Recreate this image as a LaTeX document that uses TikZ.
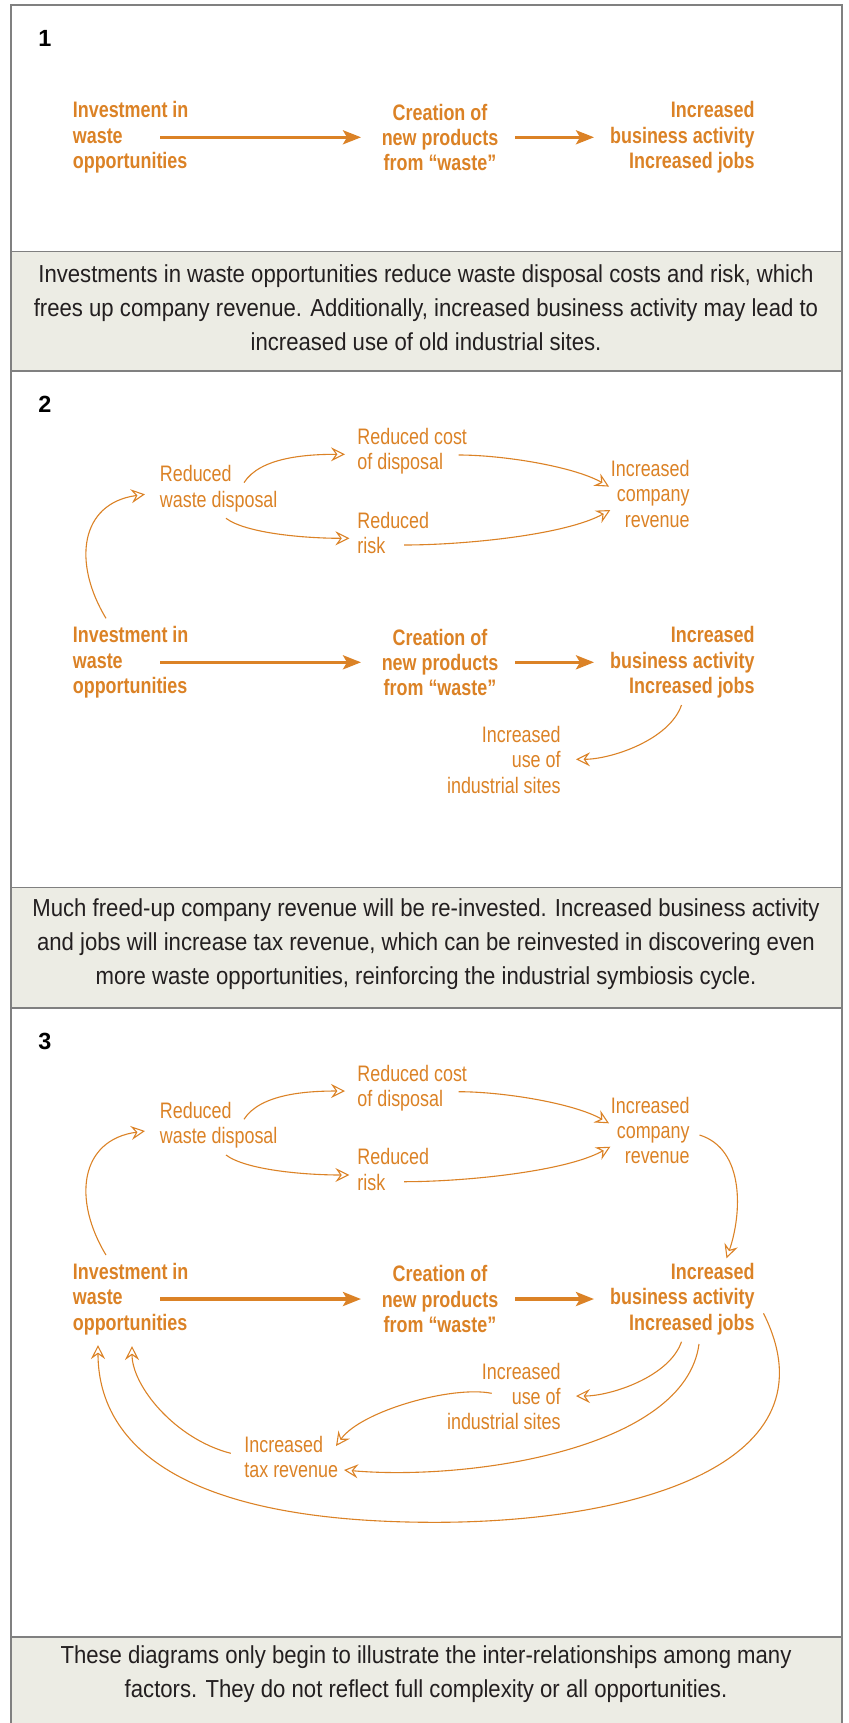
\documentclass[tikz,border=0pt]{standalone}
\usepackage{fontspec}
\setmainfont{Liberation Sans}
\newfontfamily\labfont[FakeStretch=0.8]{Liberation Sans}
\newfontfamily\capfont[FakeStretch=0.9]{Liberation Sans}
\usetikzlibrary{arrows.meta}
\definecolor{rust}{RGB}{219,130,38}
\definecolor{band}{RGB}{236,236,228}
\definecolor{rule}{RGB}{128,128,128}
\definecolor{ink}{RGB}{35,31,32}
\tikzset{
  main/.style={text=rust, inner sep=0pt, font=\labfont\bfseries\fontsize{11.2}{12.65}\selectfont},
  side/.style={text=rust, inner sep=0pt, font=\labfont\fontsize{11.2}{12.65}\selectfont},
  note/.style={text=ink, inner sep=0pt, align=center, font=\capfont\fontsize{12.3}{17}\selectfont},
  num/.style={inner sep=0pt, font=\bfseries\fontsize{11.7}{14}\selectfont},
  flow/.style={draw=rust, line width=1.6pt, -{Stealth[length=9pt,width=7pt,inset=2pt]}},
  link/.style={draw=rust, line width=0.55pt, -{Stealth[open,length=7pt,width=7pt,inset=2.5pt]}}
}
\begin{document}
\begin{tikzpicture}[x=0.5pt,y=-0.5pt]
\useasboundingbox (0,0) rectangle (848,1723);
% caption bands
\fill[band] (11,251.5) rectangle (842,371);
\fill[band] (11,887.5) rectangle (842,1008);
\fill[band] (11,1636.6) rectangle (842,1723);
\draw[rule, line width=0.9pt]
  (11,251.5) -- (842,251.5) (11,371) -- (842,371)
  (11,887.5) -- (842,887.5) (11,1008) -- (842,1008)
  (11,1636.6) -- (842,1636.6);
\draw[rule, line width=0.9pt] (11,1730) -- (11,5) -- (842,5) -- (842,1730);

\node[num] (n1) at (45,38) {1};
\node[num] (n2) at (45,404) {2};
\node[num] (n3) at (45,1041) {3};

\node[note] (cap1) at (426,307.6) {Investments in waste opportunities reduce waste disposal costs and risk, which\\
  frees up company revenue. Additionally, increased business activity may lead to\\
  increased use of old industrial sites.};
\node[note] (cap2) at (426,944.6) {Much freed-up company revenue will be re-invested. Increased business activity\\
  and jobs will increase tax revenue, which can be reinvested in discovering even\\
  more waste opportunities, reinforcing the industrial symbiosis cycle.};
\node[note] (cap3) at (426,1674) {These diagrams only begin to illustrate the inter-relationships among many\\
  factors. They do not reflect full complexity or all opportunities.};

% main row, all three panels
\foreach \p/\y in {1/137.3, 2/662.3, 3/1299} {
\begin{scope}[shift={(0,\y)}]
\node[main, anchor=west, align=left] (inv\p) at (72.5,0) {Investment in\\waste\\opportunities};
\node[main, align=center] (cre\p) at (440,0) {Creation of\\new products\\from “waste”};
\node[main, anchor=east, align=right] (bus\p) at (755,0) {Increased\\business activity\\Increased jobs};
\draw[flow] ([shift={(87.5,0)}]inv\p.west) -- ([shift={(-79,0)}]cre\p.center);
\draw[flow] ([shift={(75,0)}]cre\p.center) -- ([shift={(-161,0)}]bus\p.east);
\end{scope}
}

% side effects, panels 2 and 3
\foreach \p/\y in {2/662.3, 3/1299} {
\begin{scope}[shift={(0,\y)}]
\node[side, anchor=west, align=left] (rwd\p) at (159.5,-173.5) {Reduced\\waste disposal};
\node[side, anchor=west, align=left] (cost\p) at (357,-211) {Reduced cost\\of disposal};
\node[side, anchor=west, align=left] (risk\p) at (357,-129.5) {Reduced\\risk};
\node[side, anchor=east, align=right] (rev\p) at (690,-168.5) {Increased\\company\\revenue};
\node[side, anchor=east, align=right] (site\p) at (561,97.5) {Increased\\use of\\industrial sites};
\draw[link] ([shift={(33.5,-44)}]inv\p.west) .. controls +(-33.5,-55.3) and +(-65.4,9) .. ([shift={(-14.5,5.5)}]rwd\p.west);
\draw[link] ([shift={(84.5,-6.2)}]rwd\p.west) .. controls +(16,-25) and +(-40,0) .. ([shift={(-12,3)}]cost\p.west);
\draw[link] ([shift={(66.5,29.5)}]rwd\p.west) .. controls +(20,15) and +(-45,0) .. ([shift={(-7.6,5.5)}]risk\p.west);
\draw[link] ([shift={(101.5,3.7)}]cost\p.west) .. controls +(45,0) and +(-35,-20) .. ([shift={(-81,-7.2)}]rev\p.east);
\draw[link] ([shift={(47,12.2)}]risk\p.west) .. controls +(60,0) and +(-45,25) .. ([shift={(-79.7,16.2)}]rev\p.east);
\draw[link] ([shift={(-73.5,42.7)}]bus\p.east) .. controls +(-12,35) and +(35,0) .. ([shift={(15,-0.5)}]site\p.east);
\end{scope}
}

% feedback, panel 3
\node[side, anchor=west, align=left] (tax) at (244,1457) {Increased\\tax revenue};
\draw[link] ([shift={(9.5,4.5)}]rev3.east) .. controls +(45.5,14) and +(15.5,-44.3) .. ([shift={(-28.5,-40.7)}]bus3.east);
\draw[link] ([shift={(8.5,14.3)}]bus3.east) .. controls +(75,150) and +(200,0) .. ([shift={(-320,223.3)}]bus3.east)
  .. controls +(-284,0) and +(0,80.8) .. ([shift={(25.5,46)}]inv3.west);
\draw[link] ([shift={(-56,45)}]bus3.east) .. controls +(-14,105) and +(126,11) .. ([shift={(100,13)}]tax.west);
\draw[link] ([shift={(-69.3,-3.2)}]site3.east) .. controls +(-40,-8) and +(25,-35) .. ([shift={(92,-11)}]tax.west);
\draw[link] ([shift={(-13.2,-3.7)}]tax.west) .. controls +(-55.8,-14.3) and +(0,40) .. ([shift={(59.5,47)}]inv3.west);
\end{tikzpicture}
\end{document}
